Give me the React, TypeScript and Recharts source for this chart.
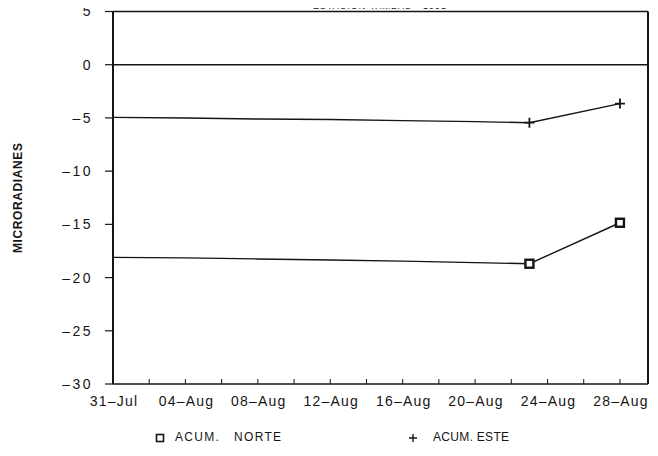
import React from 'react';
import { LineChart, Line, XAxis, YAxis, ReferenceLine, Customized } from 'recharts';

// Fechas de lectura y valores acumulados (microradianes)
const fechas = ['31-Jul', '04-Aug', '08-Aug', '12-Aug', '16-Aug', '20-Aug', '23-Aug', '28-Aug'];
const acumNorte = [-18.1, -18.15, -18.25, -18.35, -18.45, -18.6, -18.7, -14.85];
const acumEste = [-4.95, -5.0, -5.1, -5.15, -5.25, -5.35, -5.45, -3.65];

// Lecturas que llevan símbolo
const marcadas = ['23-Aug', '28-Aug'];

// Eje X: etiquetas cada 4 días, marcas cada 2 días
const etiquetasX = ['31-Jul', '04-Aug', '08-Aug', '12-Aug', '16-Aug', '20-Aug', '24-Aug', '28-Aug'];
const yTicks = [5, 0, -5, -10, -15, -20, -25, -30];

const TITULO = 'ESTACION TAMBAS - 1991';
const EJE_Y = 'MICRORADIANES';

// Día contado desde el 31 de julio
const diaDe = (f: string) => {
  const [d, m] = f.split('-');
  return Number(d) + (m === 'Aug' ? 31 : 0) - 31;
};

const X_MAX = 29.55;
const xTicks = Array.from({ length: 15 }, (_, i) => i * 2);
const etiquetaPorDia: Record<number, string> = {};
etiquetasX.forEach((e) => (etiquetaPorDia[diaDe(e)] = e));

const data = fechas.map((f, i) => ({
  fecha: f,
  dia: diaDe(f),
  norte: acumNorte[i],
  este: acumEste[i],
}));

const INK = '#151515';
const FONT = '"Liberation Sans", Arial, sans-serif';

const fmtY = (v: number) => (v < 0 ? `\u2013${Math.abs(v)}` : `${v}`);

const XTick = (props: any) => {
  const { x, y, payload } = props;
  const label = etiquetaPorDia[payload.value];
  return (
    <g>
      <line x1={x} x2={x} y1={y} y2={y - 5} stroke={INK} strokeWidth={1} />
      {label && (
        <text
          x={x + 1}
          y={y + 22}
          textAnchor="middle"
          fontSize={14}
          letterSpacing={1.2}
          fontFamily={FONT}
          fill={INK}
        >
          {label.replace('-', '\u2013')}
        </text>
      )}
    </g>
  );
};

const SquareDot = (props: any) => {
  const { cx, cy, payload } = props;
  if (!marcadas.includes(payload.fecha)) return <g />;
  return <rect x={cx - 4} y={cy - 4} width={8} height={8} fill="#fff" stroke={INK} strokeWidth={2.4} />;
};

const PlusDot = (props: any) => {
  const { cx, cy, payload } = props;
  if (!marcadas.includes(payload.fecha)) return <g />;
  return (
    <path
      d={`M${cx - 5},${cy}H${cx + 5}M${cx},${cy - 5}V${cy + 5}`}
      stroke={INK}
      strokeWidth={1.8}
      fill="none"
    />
  );
};

const Titulo = () => (
  <text x={380} y={9} textAnchor="middle" fontSize={9} letterSpacing={1} fontFamily={FONT} fill={INK}>
    {TITULO}
  </text>
);

const legendText: React.CSSProperties = {
  fontFamily: FONT,
  fontSize: 12,
  color: INK,
  whiteSpace: 'pre',
  position: 'absolute',
  top: 430,
};

export default function App() {
  return (
    <div style={{ position: 'relative', width: 658, height: 456, margin: -8, background: '#fff' }}>
      <LineChart
        width={658}
        height={456}
        data={data}
        margin={{ top: 11.5, right: 10, left: 0, bottom: 42 }}
      >
        <XAxis
          dataKey="dia"
          type="number"
          domain={[0, X_MAX]}
          ticks={xTicks}
          interval={0}
          height={30}
          tickLine={false}
          tickSize={0}
          tickMargin={0}
          axisLine={{ stroke: INK, strokeWidth: 1.5 }}
          tick={<XTick />}
          allowDataOverflow
        />
        <YAxis
          type="number"
          domain={[-30, 5]}
          ticks={yTicks}
          interval={0}
          width={113}
          tickSize={8}
          tickMargin={12}
          tickFormatter={fmtY}
          tick={{ fontSize: 14, fill: INK, fontFamily: FONT, letterSpacing: 2.5 }}
          tickLine={{ stroke: INK, strokeWidth: 1.2 }}
          axisLine={{ stroke: INK, strokeWidth: 2 }}
          label={{
            content: (p: any) => {
              const vb = p.viewBox || { y: 11.5, height: 372 };
              const cy = vb.y + vb.height / 2;
              return (
                <text
                  x={18}
                  y={cy}
                  transform={`rotate(-90 18 ${cy})`}
                  textAnchor="middle"
                  dominantBaseline="central"
                  fontSize={12}
                  letterSpacing={0.6}
                  fontWeight="bold"
                  fontFamily={FONT}
                  fill={INK}
                >
                  {EJE_Y}
                </text>
              );
            },
          }}
        />
        <ReferenceLine y={5} stroke={INK} strokeWidth={1.5} />
        <ReferenceLine x={X_MAX} stroke={INK} strokeWidth={2} />
        <ReferenceLine y={0} stroke={INK} strokeWidth={1.5} />
        <Line
          dataKey="norte"
          stroke={INK}
          strokeWidth={1.4}
          dot={<SquareDot />}
          activeDot={false}
          isAnimationActive={false}
        />
        <Line
          dataKey="este"
          stroke={INK}
          strokeWidth={1.4}
          dot={<PlusDot />}
          activeDot={false}
          isAnimationActive={false}
        />
        <Customized component={<Titulo />} />
      </LineChart>
      <svg width={10} height={10} style={{ position: 'absolute', left: 155, top: 433 }}>
        <rect x={1.5} y={1.5} width={7} height={7} fill="#fff" stroke={INK} strokeWidth={1.6} />
      </svg>
      <div style={{ ...legendText, left: 175, letterSpacing: 1.3 }}>{'ACUM.   NORTE'}</div>
      <svg width={10} height={10} style={{ position: 'absolute', left: 408, top: 433 }}>
        <path d="M1,5H9M5,1V9" stroke={INK} strokeWidth={1.4} />
      </svg>
      <div style={{ ...legendText, left: 433, letterSpacing: 0.3 }}>{'ACUM. ESTE'}</div>
    </div>
  );
}
